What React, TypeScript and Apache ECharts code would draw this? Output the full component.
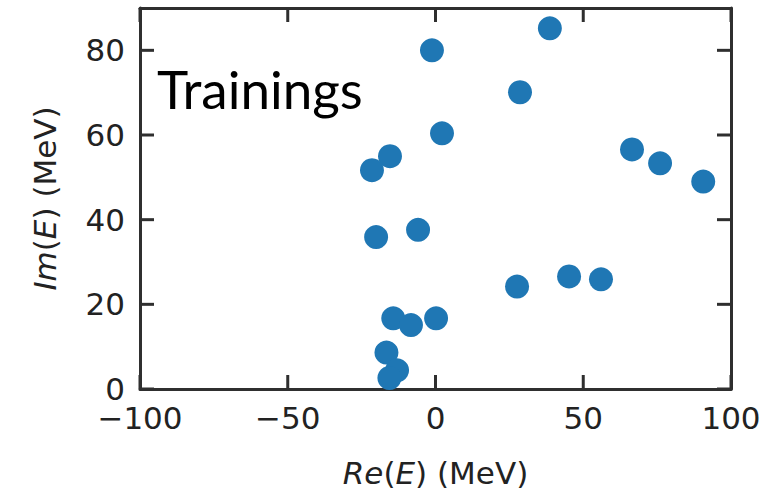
import React, { useEffect, useRef } from "react";
import * as echarts from "echarts";

// Complex energies of the training set: real part (MeV)
const reE: number[] = [
  38.7, -1.2, 28.6, 2.2, -15.4, -21.5, 66.5, 76.0, 90.6, -20.1,
  -5.9, 27.6, 45.2, 56.0, -14.3, -8.3, 0.2, -16.6, -13.0, -15.6,
];
// imaginary part (MeV)
const imE: number[] = [
  85.2, 80.0, 70.1, 60.4, 55.0, 51.7, 56.6, 53.3, 49.0, 35.9,
  37.6, 24.2, 26.6, 25.9, 16.7, 15.1, 16.7, 8.6, 4.4, 2.6,
];

const xTicks = [-100, -50, 0, 50, 100];
const yTicks = [0, 20, 40, 60, 80];
const X_MIN = -100;
const X_MAX = 100;
const Y_MIN = 0;
const Y_MAX = 90;

const FRAME = "#2f2f2f";
const FONT = "DejaVu Sans";
const TICK_LEN = 14;

export default function App() {
  const ref = useRef<HTMLDivElement>(null);

  useEffect(() => {
    if (!ref.current) return;
    const chart = echarts.init(ref.current, undefined, { renderer: "svg" });

    const points = reE.map((x, i) => [x, imE[i]]);

    const frameLine = {
      show: true,
      onZero: false,
      lineStyle: { color: FRAME, width: 3 },
    };
    const tickLineStyle = { stroke: FRAME, lineWidth: 3 };

    const labelRich = {
      i: { fontFamily: FONT, fontStyle: "italic" as const, fontSize: 31, color: "#222" },
    };

    const xBase = {
      type: "value",
      min: X_MIN,
      max: X_MAX,
      interval: 50,
      axisLine: frameLine,
      axisTick: { show: false },
      splitLine: { show: false },
    };
    const yBase = {
      type: "value",
      min: Y_MIN,
      max: Y_MAX,
      interval: 20,
      axisLine: frameLine,
      axisTick: { show: false },
      splitLine: { show: false },
    };

    chart.setOption({
      animation: false,
      backgroundColor: "#ffffff",
      grid: { left: 140, right: 45, top: 8, bottom: 106 },
      xAxis: [
        {
          ...xBase,
          position: "bottom",
          axisLabel: {
            color: "#222",
            fontFamily: FONT,
            fontSize: 31,
            margin: 13,
            formatter: (v: number) => String(v).replace("-", "\u2212"),
          },
          name: "{i|Re}({i|E}) (MeV)",
          nameLocation: "middle",
          nameGap: 68,
          nameTextStyle: { color: "#222", fontFamily: FONT, fontSize: 31, rich: labelRich },
        },
        { ...xBase, position: "top", axisLabel: { show: false } },
      ],
      yAxis: [
        {
          ...yBase,
          position: "left",
          axisLabel: {
            color: "#222",
            fontFamily: FONT,
            fontSize: 31,
            margin: 15,
            formatter: (v: number) => (yTicks.includes(v) ? String(v) : ""),
          },
          name: "{i|Im}({i|E}) (MeV)",
          nameLocation: "middle",
          nameGap: 80,
          nameRotate: 90,
          nameTextStyle: { color: "#222", fontFamily: FONT, fontSize: 31, rich: labelRich },
        },
        { ...yBase, position: "right", axisLabel: { show: false } },
      ],
      series: [
        {
          type: "scatter",
          data: points,
          symbol: "circle",
          symbolSize: 24,
          itemStyle: { color: "#1f77b4", opacity: 1 },
          clip: true,
          z: 2,
        },
        // inward ticks on bottom and top edges
        {
          type: "custom",
          data: xTicks.map((v) => [v, Y_MIN]),
          clip: false,
          silent: true,
          z: 3,
          renderItem: (_params: any, api: any) => {
            const x = api.value(0);
            const b = api.coord([x, Y_MIN]);
            const t = api.coord([x, Y_MAX]);
            return {
              type: "group",
              children: [
                { type: "line", shape: { x1: b[0], y1: b[1], x2: b[0], y2: b[1] - TICK_LEN }, style: tickLineStyle },
                { type: "line", shape: { x1: t[0], y1: t[1], x2: t[0], y2: t[1] + TICK_LEN }, style: tickLineStyle },
              ],
            };
          },
        },
        // inward ticks on left and right edges
        {
          type: "custom",
          data: yTicks.map((v) => [X_MIN, v]),
          clip: false,
          silent: true,
          z: 3,
          renderItem: (_params: any, api: any) => {
            const y = api.value(1);
            const l = api.coord([X_MIN, y]);
            const r = api.coord([X_MAX, y]);
            return {
              type: "group",
              children: [
                { type: "line", shape: { x1: l[0], y1: l[1], x2: l[0] + TICK_LEN, y2: l[1] }, style: tickLineStyle },
                { type: "line", shape: { x1: r[0], y1: r[1], x2: r[0] - TICK_LEN, y2: r[1] }, style: tickLineStyle },
              ],
            };
          },
        },
      ],
      graphic: [
        {
          type: "text",
          left: 157,
          top: 62,
          style: { text: "Trainings", fontFamily: "Lato", fontSize: 53, fill: "#000" },
        },
      ],
    });

    return () => chart.dispose();
  }, []);

  return (
    <div
      ref={ref}
      style={{ position: "fixed", left: 0, top: 0, width: 776, height: 495 }}
    />
  );
}
